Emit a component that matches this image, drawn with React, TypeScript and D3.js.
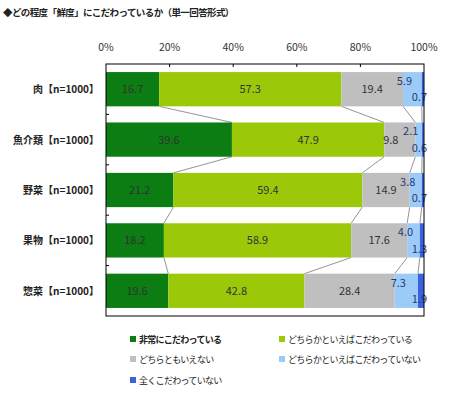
import React, { useEffect, useRef } from "react";
import * as d3 from "d3";

const title = "◆どの程度「鮮度」にこだわっているか（単一回答形式）";
const categories = ["肉【n=1000】", "魚介類【n=1000】", "野菜【n=1000】", "果物【n=1000】", "惣菜【n=1000】"];
const seriesNames = [
  "非常にこだわっている",
  "どちらかといえばこだわっている",
  "どちらともいえない",
  "どちらかといえばこだわっていない",
  "全くこだわっていない",
];
const colors = ["#0b7d12", "#9bc90a", "#bfbfbf", "#9dcbf7", "#3a62e0"];
const s1 = [16.7, 39.6, 21.2, 18.2, 19.6];
const s2 = [57.3, 47.9, 59.4, 58.9, 42.8];
const s3 = [19.4, 9.8, 14.9, 17.6, 28.4];
const s4 = [5.9, 2.1, 3.8, 4.0, 7.3];
const s5 = [0.7, 0.6, 0.7, 1.3, 1.9];
const xTicks = [0, 20, 40, 60, 80, 100];

const W = 449;
const H = 397;

const App = () => {
  const ref = useRef<SVGSVGElement>(null);

  useEffect(() => {
    const svg = d3.select(ref.current);
    svg.selectAll("*").remove();
    const font = "'Noto Sans CJK JP', sans-serif";
    const left = 106, right = 424, top = 64, bottom = 316;

    const x = d3.scaleLinear().domain([0, 100]).range([left, right]);
    const y = d3.scaleBand().domain(categories).range([top, bottom]).paddingInner(0.32).paddingOuter(0.16);

    const series = [s1, s2, s3, s4, s5];
    const rows = categories.map((c, i) => {
      let acc = 0;
      return series.map((s, k) => {
        const v = s[i];
        const seg = { cat: c, k, v, x0: acc, x1: acc + v };
        acc += v;
        return seg;
      });
    });

    svg.append("text")
      .attr("x", 3).attr("y", 16)
      .attr("font-family", font).attr("font-size", 9.5).attr("font-weight", "bold")
      .attr("letter-spacing", -0.6)
      .attr("fill", "#222")
      .text(title);

    // connector lines between bars
    const conn = svg.append("g").attr("stroke", "#666").attr("stroke-width", 0.7);
    for (let i = 0; i < categories.length - 1; i++) {
      for (let k = 0; k < 4; k++) {
        conn.append("line")
          .attr("x1", x(rows[i][k].x1)).attr("y1", y(categories[i])! + y.bandwidth())
          .attr("x2", x(rows[i + 1][k].x1)).attr("y2", y(categories[i + 1])!);
      }
    }

    // bars
    rows.forEach((row) => {
      svg.append("g").selectAll("rect").data(row).enter().append("rect")
        .attr("x", (d) => x(d.x0))
        .attr("y", (d) => y(d.cat)!)
        .attr("width", (d) => x(d.x1) - x(d.x0))
        .attr("height", y.bandwidth())
        .attr("fill", (d) => colors[d.k]);
    });

    // value labels
    rows.forEach((row) => {
      const by = y(row[0].cat)!;
      const bh = y.bandwidth();
      row.forEach((d) => {
        const mid = (x(d.x0) + x(d.x1)) / 2;
        let tx = mid;
        let ty = by + bh / 2 + 4;
        let anchor = "middle";
        if (d.k === 3) {
          tx = mid - 8;
          ty = by + 13;
        } else if (d.k === 4) {
          tx = right + 3;
          ty = by + bh - 5;
          anchor = "end";
        } else if (d.k === 2 && d.v < 12) {
          tx = mid - 9;
        }
        svg.append("text")
          .attr("x", tx).attr("y", ty)
          .attr("text-anchor", anchor)
          .attr("font-family", font).attr("font-size", 11)
          .attr("fill", d.k >= 3 ? "#1f3a7a" : "#333")
          .text(d.v.toFixed(1));
      });
    });

    // frame
    svg.append("rect")
      .attr("x", left).attr("y", top)
      .attr("width", right - left).attr("height", bottom - top)
      .attr("fill", "none").attr("stroke", "#000").attr("stroke-width", 1);

    // top ticks and labels
    const g = svg.append("g");
    xTicks.forEach((t) => {
      if (t > 0 && t < 100) {
        g.append("line").attr("x1", x(t)).attr("x2", x(t)).attr("y1", top).attr("y2", top + 3).attr("stroke", "#000");
      }
      g.append("text")
        .attr("x", x(t)).attr("y", 51)
        .attr("text-anchor", "middle")
        .attr("font-family", font).attr("font-size", 10.5).attr("fill", "#333")
        .text(`${t}%`);
    });

    // left ticks and category labels
    categories.forEach((c, i) => {
      if (i > 0) {
        const yy = y(c)! - (y.step() * y.paddingInner()) / 2;
        g.append("line").attr("x1", left).attr("x2", left + 3).attr("y1", yy).attr("y2", yy).attr("stroke", "#000");
      }
      g.append("text")
        .attr("x", left - 7).attr("y", y(c)! + y.bandwidth() / 2 + 4)
        .attr("text-anchor", "end")
        .attr("font-family", font).attr("font-size", 10).attr("font-weight", "bold").attr("fill", "#222")
        .text(c);
    });

    // legend
    const legendPos = [[130, 340], [279, 340], [130, 360], [279, 360], [130, 381]];
    seriesNames.forEach((name, k) => {
      const [lx, ly] = legendPos[k];
      svg.append("rect").attr("x", lx).attr("y", ly - 4).attr("width", 6).attr("height", 6).attr("fill", colors[k]);
      svg.append("text")
        .attr("x", lx + 9).attr("y", ly + 3)
        .attr("font-family", font).attr("font-size", 9).attr("fill", "#222")
        .attr("letter-spacing", -0.7)
        .attr("font-weight", k === 0 ? "bold" : "normal")
        .text(name);
    });
  }, []);

  return (
    <svg ref={ref} width={W} height={H} style={{ position: "absolute", left: 0, top: 0, background: "#fff" }} />
  );
};

export default App;
